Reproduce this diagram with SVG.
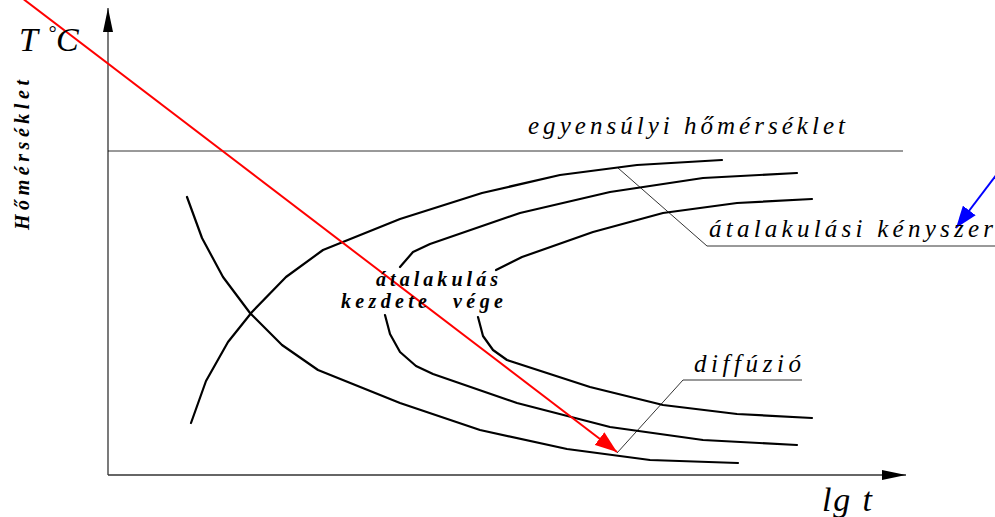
<svg xmlns="http://www.w3.org/2000/svg" width="995" height="517" viewBox="0 0 995 517">
  <style>
    .axis { stroke: #333; stroke-width: 1.3; fill: none; }
    .thin { stroke: #000; stroke-width: 0.8; fill: none; }
    .curve { stroke: #000; stroke-width: 2.2; fill: none; stroke-linejoin: round; stroke-linecap: round; }
    .lbl { font-family: "Liberation Serif", "DejaVu Serif", serif; font-style: italic; fill: #000; }
    .big { font-size: 34px; }
    .mid { font-size: 25px; }
    .sm { font-size: 20px; font-weight: bold; }
  </style>
  <defs>
    <marker id="axhead" markerWidth="24" markerHeight="10" refX="24" refY="5" orient="auto" markerUnits="userSpaceOnUse">
      <path d="M0,0 L24,5 L0,10 z" fill="#000"/>
    </marker>
    <marker id="redhead" markerWidth="22" markerHeight="16" refX="22" refY="8" orient="auto" markerUnits="userSpaceOnUse">
      <path d="M0,0 L22,8 L0,16 z" fill="#ff0000"/>
    </marker>
    <marker id="bluehead" markerWidth="22" markerHeight="16" refX="22" refY="8" orient="auto" markerUnits="userSpaceOnUse">
      <path d="M0,0 L22,8 L0,16 z" fill="#0000ff"/>
    </marker>
  </defs>
  <rect width="995" height="517" fill="#fff"/>

  <!-- axes -->
  <g id="axes">
    <line class="axis" x1="108" y1="475" x2="108" y2="8" marker-end="url(#axhead)"/>
    <line class="axis" x1="108" y1="475" x2="906" y2="475" marker-end="url(#axhead)"/>
    <line class="thin" x1="108" y1="151" x2="903" y2="151"/>
  </g>

  <!-- curves -->
  <g id="curves">
    <polyline id="driving-force" class="curve" points="191,423 206,381 228,342 252,312 286,277 323,250 400,219 482,193 560,175 637,165 722,160"/>
    <polyline id="diffusion" class="curve" points="187,197 202,238 223,277 250,313 282,345 318,370 400,403 480,430 567,449 650,460 738,463"/>
    <polyline id="start-upper" class="curve" points="400,267 413,252 430,244 520,213 610,192 703,178 797,173"/>
    <polyline id="start-lower" class="curve" points="385,315 390,334 400,352 416,366 433,374 517,403 610,427 703,440 797,445"/>
    <polyline id="end-upper" class="curve" points="496,270 522,257 593,232 663,213 737,203 812,199"/>
    <polyline id="end-lower" class="curve" points="478,317 483,336 493,350 507,360 590,387 663,405 737,414 812,418"/>
  </g>

  <!-- connectors -->
  <g id="connectors">
    <polyline class="thin" points="618,168 707,246 995,246"/>
    <polyline class="thin" points="617,453 683,380 802,380"/>
    <line x1="22" y1="-2" x2="617" y2="452" stroke="#ff0000" stroke-width="2" marker-end="url(#redhead)"/>
    <line x1="1000" y1="170" x2="956" y2="228" stroke="#0000ff" stroke-width="2" marker-end="url(#bluehead)"/>
  </g>

  <!-- labels -->
  <g id="labels">
    <text class="lbl big" x="19" y="51">T<tspan dx="10" dy="-11" font-size="20">°</tspan><tspan dy="11">C</tspan></text>
    <text class="lbl big" x="822" y="511" textLength="50" lengthAdjust="spacing">lg t</text>
    <text class="lbl sm" transform="translate(29,230) rotate(-90)" font-size="18" textLength="150" lengthAdjust="spacing">Hőmérséklet</text>
    <text class="lbl mid" x="528" y="134" textLength="317" lengthAdjust="spacing">egyensúlyi  hőmérséklet</text>
    <text class="lbl mid" x="709" y="237" textLength="284" lengthAdjust="spacing">átalakulási  kényszer</text>
    <text class="lbl sm" x="376" y="286" textLength="122" lengthAdjust="spacing">átalakulás</text>
    <text class="lbl sm" x="341" y="308" textLength="86" lengthAdjust="spacing">kezdete</text>
    <text class="lbl sm" x="453" y="308" textLength="50" lengthAdjust="spacing">vége</text>
    <text class="lbl mid" x="694" y="372" textLength="107" lengthAdjust="spacing">diffúzió</text>
  </g>
</svg>
